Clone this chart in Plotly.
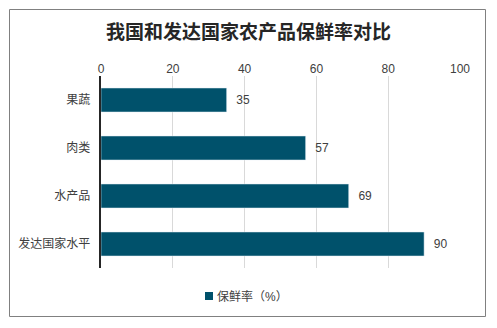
import plotly.graph_objects as go

categories = ["果蔬", "肉类", "水产品", "发达国家水平"]
values = [35, 57, 69, 90]
series_name = "保鲜率（%）"
title = "我国和发达国家农产品保鲜率对比"
bar_color = "#00516B"

W, H = 497, 328
L, R, T, B = 101, 37, 76, 60
pw, ph = W - L - R, H - T - B

def px_x(x):
    return (x - L) / pw

def px_y(y):
    return (H - B - y) / ph

font_fam = "Liberation Sans, Noto Sans CJK SC, Arial, sans-serif"

fig = go.Figure()
fig.add_trace(go.Bar(
    y=categories, x=values, orientation="h",
    name=series_name,
    marker=dict(color=bar_color),
    width=0.5,
    texttemplate="  %{x}", textposition="outside",
    textfont=dict(size=12, color="#404040"),
    cliponaxis=False,
    showlegend=False,
))

fig.update_layout(
    width=W, height=H,
    margin=dict(l=L, r=R, t=T, b=B),
    paper_bgcolor="white", plot_bgcolor="white",
    font=dict(family=font_fam, size=12, color="#404040"),
    title=dict(text="<b>" + title + "</b>", x=0.5, xanchor="center",
               y=1 - 32 / H, yanchor="middle",
               font=dict(size=19, color="#262626",
                         family="Noto Sans CJK SC, sans-serif")),
    xaxis=dict(side="top", range=[0, 100], dtick=20, showgrid=True,
               gridcolor="#D9D9D9", gridwidth=1, zeroline=False,
               ticks="", tickfont=dict(size=12, color="#404040"),
               fixedrange=True),
    yaxis=dict(autorange="reversed", showline=True, linecolor="#262626",
               linewidth=1.5, ticks="", ticksuffix="  ",
               tickfont=dict(size=12, color="#404040")),
    showlegend=False,
    bargap=0.5,
)

# legend (custom, tight swatch next to text)
fig.add_shape(type="rect", xref="paper", yref="paper",
              x0=px_x(205), x1=px_x(213), y0=px_y(300), y1=px_y(292),
              line=dict(width=0), fillcolor=bar_color)
fig.add_annotation(xref="paper", yref="paper", x=px_x(215), y=px_y(296),
                   xanchor="left", yanchor="middle", showarrow=False,
                   text=series_name, font=dict(size=12, color="#404040"))

fig.add_shape(type="rect", xref="paper", yref="paper",
              x0=px_x(9.5), x1=px_x(485.5), y0=px_y(316.5), y1=px_y(9.5),
              line=dict(color="#808080", width=1), fillcolor="rgba(0,0,0,0)")

fig.write_html("out.html")
